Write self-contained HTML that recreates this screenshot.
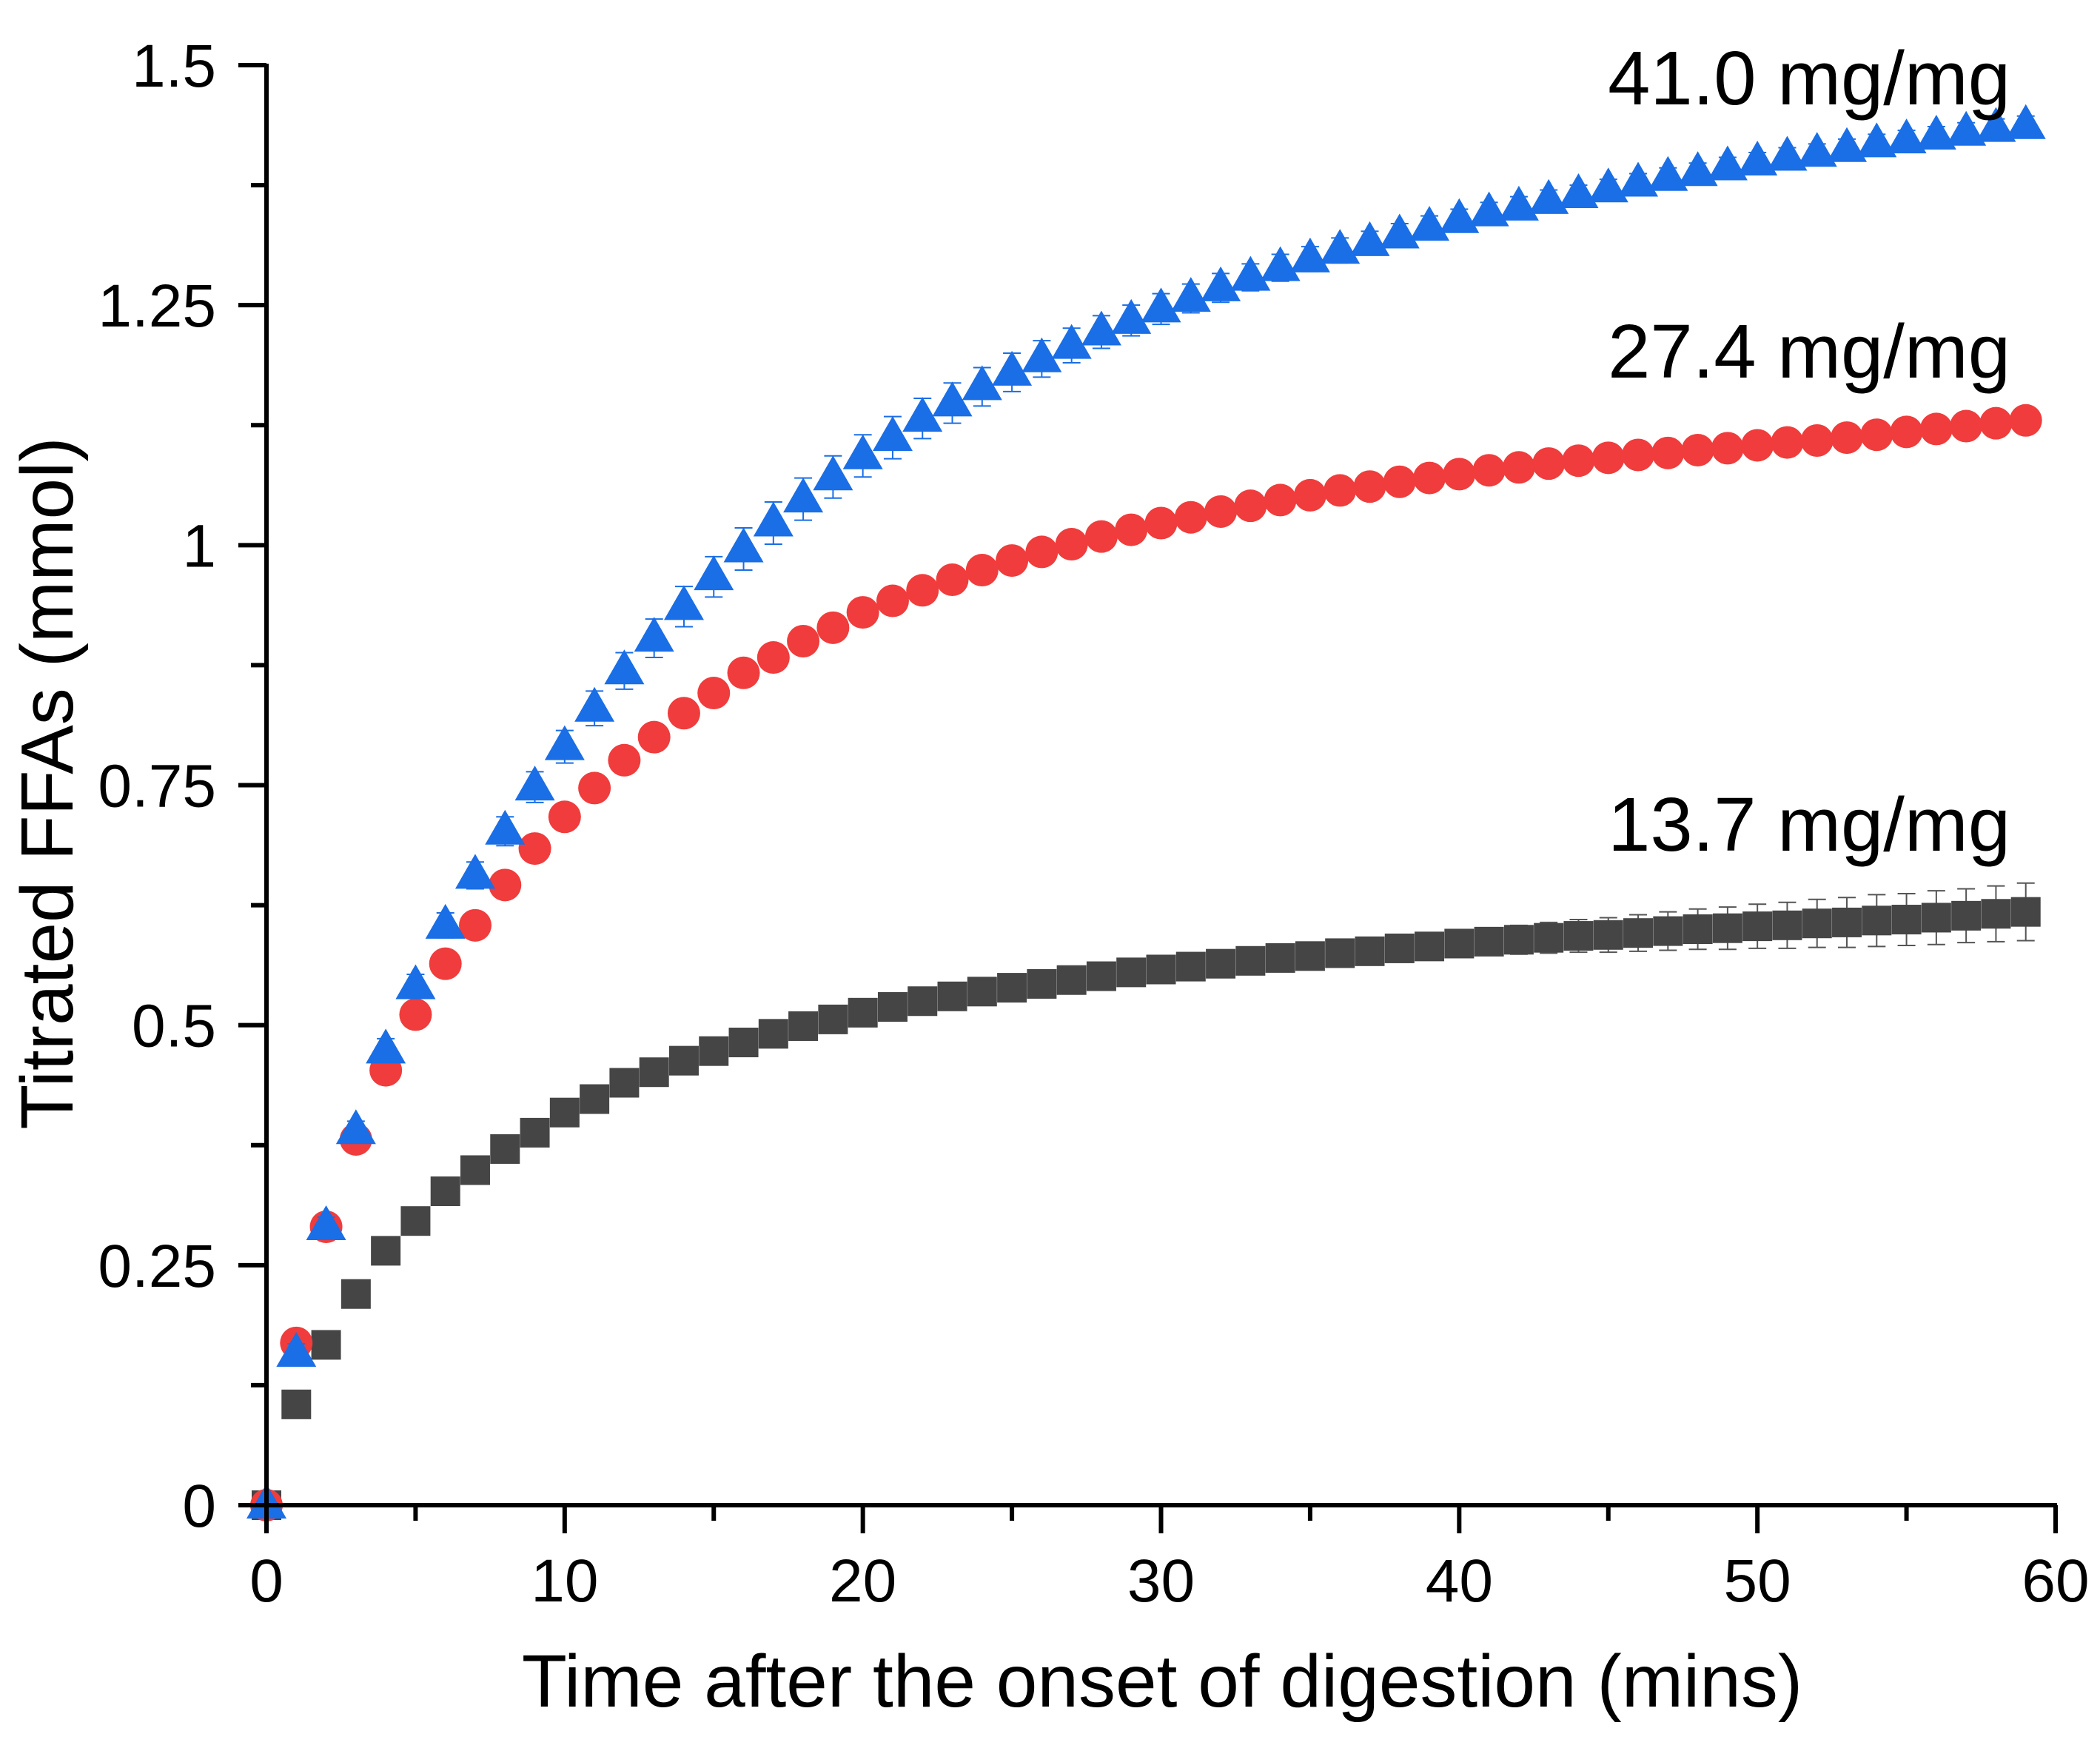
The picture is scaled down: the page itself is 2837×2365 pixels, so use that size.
<!DOCTYPE html>
<html><head><meta charset="utf-8"><style>
html,body{margin:0;padding:0;background:#fff}
svg text{font-family:"Liberation Sans",Arial,sans-serif;fill:#000}
</style></head><body>
<svg id="chart" width="2837" height="2360" viewBox="0 0 2837 2360" xmlns="http://www.w3.org/2000/svg">
<g id="marks"></g>
<g id="axes"></g>
<text x="0" y="0" font-size="100" text-anchor="middle" transform="translate(98,1058) rotate(-90)">Titrated FFAs (mmol)</text>
<text x="1570" y="2305" font-size="100" text-anchor="middle">Time after the onset of digestion (mins)</text>
<text x="2716" y="141" font-size="103" text-anchor="end">41.0 mg/mg</text>
<text x="2716" y="510" font-size="103" text-anchor="end">27.4 mg/mg</text>
<text x="2716" y="1149" font-size="103" text-anchor="end">13.7 mg/mg</text>
</svg>
<script>
const xTicks=[0,10,20,30,40,50,60];
const yTicks=[0,0.25,0.5,0.75,1,1.25,1.5];
const yTickLabels=["0","0.25","0.5","0.75","1","1.25","1.5"];
const times=[0,1,2,3,4,5,6,7,8,9,10,11,12,13,14,15,16,17,18,19,20,21,22,23,24,25,26,27,28,29,30,31,32,33,34,35,36,37,38,39,40,41,42,43,44,45,46,47,48,49,50,51,52,53,54,55,56,57,58,59];
const black=[0,0.105,0.167,0.22,0.265,0.296,0.327,0.349,0.371,0.388,0.409,0.423,0.44,0.451,0.463,0.473,0.482,0.491,0.499,0.506,0.513,0.519,0.525,0.53,0.535,0.539,0.543,0.547,0.551,0.555,0.558,0.561,0.564,0.567,0.57,0.572,0.575,0.577,0.58,0.582,0.585,0.587,0.589,0.591,0.593,0.594,0.596,0.598,0.6,0.601,0.603,0.604,0.606,0.607,0.609,0.61,0.612,0.614,0.616,0.618];
const red=[0,0.169,0.29,0.381,0.453,0.511,0.564,0.604,0.646,0.684,0.717,0.747,0.776,0.8,0.825,0.846,0.867,0.883,0.9,0.914,0.93,0.942,0.953,0.964,0.974,0.984,0.993,1.001,1.009,1.016,1.023,1.029,1.035,1.041,1.047,1.052,1.057,1.061,1.066,1.07,1.074,1.078,1.081,1.085,1.088,1.091,1.094,1.096,1.099,1.101,1.104,1.107,1.109,1.112,1.115,1.118,1.121,1.124,1.127,1.13];
const blue=[0,0.158,0.29,0.39,0.474,0.541,0.604,0.656,0.702,0.748,0.79,0.83,0.869,0.903,0.936,0.967,0.996,1.023,1.048,1.071,1.093,1.112,1.132,1.148,1.165,1.18,1.194,1.208,1.222,1.234,1.246,1.257,1.268,1.279,1.289,1.298,1.307,1.315,1.323,1.331,1.339,1.346,1.352,1.359,1.365,1.371,1.377,1.383,1.388,1.394,1.399,1.404,1.408,1.413,1.418,1.422,1.426,1.43,1.434,1.437];
const blackErr=[0,0,0,0,0,0,0,0,0,0,0,0,0,0,0,0,0,0,0,0,0,0,0,0,0,0,0,0,0,0,0.003,0.004,0.005,0.006,0.007,0.008,0.009,0.01,0.011,0.012,0.013,0.014,0.015,0.016,0.017,0.018,0.019,0.02,0.021,0.022,0.023,0.024,0.025,0.026,0.027,0.027,0.028,0.028,0.029,0.03];
const blueErr=[0,0.01,0.01,0.01,0.012,0.012,0.013,0.014,0.015,0.016,0.017,0.018,0.019,0.02,0.021,0.021,0.022,0.022,0.022,0.022,0.022,0.022,0.021,0.021,0.02,0.02,0.019,0.018,0.017,0.016,0.016,0.015,0.015,0.014,0.014,0.013,0.013,0.012,0.012,0.012,0.011,0.011,0.011,0.011,0.01,0.01,0.01,0.01,0.01,0.01,0.01,0.01,0.01,0.01,0.01,0.01,0.01,0.01,0.01,0.01];
const X0=360,X1=2777,Y0=2033,Y1=88;
function xs(v){return X0+(v-0)/(60-0)*(X1-X0);}
function ys(v){return Y0-(v-0)/(1.5-0)*(Y0-Y1);}
const NS="http://www.w3.org/2000/svg";
function mk(tag,attrs,parent){const e=document.createElementNS(NS,tag);for(const k in attrs)e.setAttribute(k,attrs[k]);parent.appendChild(e);return e;}
const axes=document.getElementById('axes'),marks=document.getElementById('marks');
let l=mk('line',{x1:X0,y1:Y0,x2:X1+2,y2:Y0,stroke:'#000','stroke-width':6},axes);

l=mk('line',{x1:X0,y1:Y0+2,x2:X0,y2:Y1-2,stroke:'#000','stroke-width':6},axes);

xTicks.forEach((t,i)=>{
 const x=xs(t);
 const tk=mk('line',{x1:x,y1:Y0,x2:x,y2:Y0+38,stroke:'#000','stroke-width':6},axes);
 
 const tx=mk('text',{x:x,y:2163,'font-size':82,'text-anchor':'middle'},axes);tx.textContent=String(t);
 
 if(i<xTicks.length-1){const m=xs(t+5);const mt=mk('line',{x1:m,y1:Y0,x2:m,y2:Y0+21,stroke:'#000','stroke-width':6},axes);
 }
});
yTicks.forEach((t,i)=>{
 const y=ys(t);
 const tk=mk('line',{x1:X0-38,y1:y,x2:X0,y2:y,stroke:'#000','stroke-width':6},axes);
 
 const tx=mk('text',{x:292,y:y+29,'font-size':82,'text-anchor':'end'},axes);tx.textContent=yTickLabels[i];
 
 if(i<yTicks.length-1){const m=ys(t+0.125);const mt=mk('line',{x1:X0-21,y1:m,x2:X0,y2:m,stroke:'#000','stroke-width':6},axes);
 }
});
function errbar(t,v,e,color){
 if(!e)return;const x=xs(t),a=ys(v-e),b=ys(v+e);
 const g=mk('path',{d:`M${x},${a}V${b}M${x-12},${a}H${x+12}M${x-12},${b}H${x+12}`,stroke:color,'stroke-width':2,fill:'none'},marks);
 
}
times.forEach((t,i)=>{errbar(t,black[i],blackErr[i],'#555');
 const x=xs(t),y=ys(black[i]);
 const r=mk('rect',{x:x-20,y:y-20,width:40,height:40,fill:'#454545'},marks);
 });
times.forEach((t,i)=>{
 const c=mk('circle',{cx:xs(t),cy:ys(red[i]),r:22,fill:'#f03c3c'},marks);
 });
times.forEach((t,i)=>{errbar(t,blue[i],blueErr[i],'#1a6ee6');
 const x=xs(t),y=ys(blue[i]);
 const p=mk('polygon',{points:`${x},${y-29} ${x+27},${y+18} ${x-27},${y+18}`,fill:'#1a6ee6'},marks);
 });
</script>
</body></html>
